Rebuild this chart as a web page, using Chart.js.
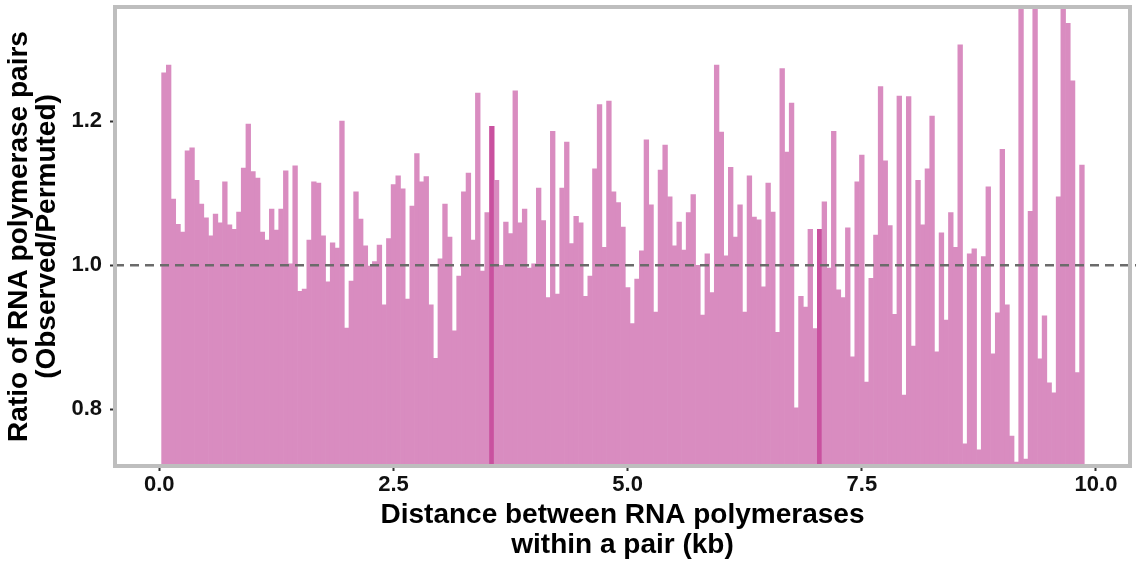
<!DOCTYPE html>
<html lang="en">
<head>
<meta charset="UTF-8">
<title>ratio chart</title>
<style>
    body { margin: 0; background: #fff; }
    #wrap { width: 1136px; height: 561px; }
</style>
</head>
<body>
<div id="wrap"><canvas id="ratioChart"></canvas></div>

<script src="https://cdn.jsdelivr.net/npm/chart.js"></script>
<script>
// histogram bins: 0.05 kb wide, first bin centred on 0.05 kb
var binStart = 0.05;
var binWidth = 0.05;

// observed / permuted ratio for each bin
var ratios = [
    1.267, 1.278, 1.092, 1.057, 1.046, 1.159, 1.163, 1.118, 1.085, 1.066,
    1.041, 1.071, 1.059, 1.116, 1.056, 1.050, 1.074, 1.135, 1.196, 1.130,
    1.121, 1.046, 1.035, 1.078, 1.049, 1.078, 1.131, 1.002, 1.138, 0.964,
    0.967, 1.035, 1.116, 1.114, 1.041, 0.977, 1.031, 1.024, 1.200, 0.913,
    0.978, 1.102, 1.064, 1.027, 0.999, 1.005, 1.028, 0.945, 1.037, 1.112,
    1.124, 1.106, 0.953, 1.082, 1.155, 1.116, 1.123, 0.945, 0.871, 1.009,
    1.085, 1.039, 0.909, 0.985, 1.102, 1.128, 1.035, 1.239, 0.992, 1.073,
    1.193, 1.118, 1.000, 1.060, 1.044, 1.242, 1.059, 1.078, 0.996, 1.002,
    1.107, 1.062, 0.955, 1.186, 0.960, 1.107, 1.171, 1.030, 1.068, 1.059,
    0.957, 0.985, 1.134, 1.223, 1.025, 1.228, 1.102, 1.087, 1.053, 0.969,
    0.919, 0.981, 1.020, 1.174, 1.084, 0.935, 1.132, 1.167, 1.095, 1.027,
    1.060, 1.021, 1.073, 1.098, 1.000, 0.931, 1.016, 0.962, 1.278, 1.185,
    1.013, 1.136, 1.039, 1.084, 0.935, 1.124, 1.067, 1.063, 0.970, 1.114,
    1.074, 0.907, 1.273, 1.157, 1.225, 0.802, 0.957, 0.942, 1.050, 0.912,
    1.050, 1.088, 0.996, 1.186, 0.966, 0.955, 1.052, 0.873, 1.116, 1.153,
    0.838, 0.982, 1.042, 1.248, 1.145, 1.055, 0.932, 1.235, 0.820, 1.234,
    0.888, 1.118, 1.056, 1.134, 1.207, 0.880, 1.045, 0.924, 1.073, 1.025,
    1.306, 0.752, 1.016, 1.023, 0.744, 1.012, 1.109, 0.877, 0.934, 1.161,
    0.945, 0.763, 0.727, 1.390, 0.731, 1.075, 1.420, 0.870, 0.930, 0.837,
    0.823, 1.095, 1.380, 1.336, 1.256, 0.851, 1.139
];

// bins that come out darker in the figure
var darkBins = [70, 140];

var xTicks = [0, 2.5, 5, 7.5, 10];
var yTicks = [0.8, 1.0, 1.2];

var distances = ratios.map(function(r, i) {
    return +(binStart + i * binWidth).toFixed(2);
});

var barData = distances.map(function(d, i) {
    return { x: d, y: ratios[i] };
});

var barColors = ratios.map(function(r, i) {
    return darkBins.indexOf(i) >= 0 ? '#c9519f' : '#d98cc0';
});

// grey panel border + dashed reference line at 1.0
var panelPlugin = {
    id: 'panel',
    afterDatasetsDraw: function(chart) {
        var ctx = chart.ctx;
        var area = chart.chartArea;
        var y1 = chart.scales.y.getPixelForValue(1.0);
        ctx.save();
        ctx.strokeStyle = '#6b6b6b';
        ctx.lineWidth = 2.5;
        ctx.setLineDash([9, 6]);
        ctx.beginPath();
        ctx.moveTo(area.left, y1);
        ctx.lineTo(chart.width, y1);
        ctx.stroke();
        ctx.setLineDash([]);
        ctx.strokeStyle = '#bebebe';
        ctx.lineWidth = 4;
        ctx.strokeRect(area.left, area.top, area.right - area.left, area.bottom - area.top);
        ctx.restore();
    }
};

var tickFont = { family: "'Liberation Sans', Arial, sans-serif", size: 22, weight: 'bold' };
var titleFont = { family: "'Liberation Sans', Arial, sans-serif", size: 28, weight: 'bold' };

var ctx = document.getElementById('ratioChart');
var ratioChart = new Chart(ctx.getContext('2d'), {
    type: 'bar',
    data: {
        datasets: [{
            label: 'Observed/Permuted',
            data: barData,
            backgroundColor: barColors,
            borderWidth: 0,
            barPercentage: 1.0,
            categoryPercentage: 1.0
        }]
    },
    options: {
        responsive: true,
        maintainAspectRatio: false,
        animation: false,
        layout: {
            padding: { top: 7, right: 6, left: 0, bottom: 0 }
        },
        scales: {
            x: {
                type: 'linear',
                offset: false,
                min: -0.4729,
                max: 10.363,
                afterBuildTicks: function(scale) {
                    scale.ticks = xTicks.map(function(v) { return { value: v }; });
                },
                afterFit: function(scale) {
                    scale.height = 95;
                    scale.paddingLeft = 0;
                    scale.paddingRight = 0;
                },
                ticks: {
                    color: '#111',
                    font: tickFont,
                    padding: 1,
                    maxRotation: 0,
                    callback: function(value) {
                        return value.toFixed(1);
                    }
                },
                grid: {
                    display: true,
                    offset: false,
                    drawOnChartArea: false,
                    drawTicks: true,
                    tickLength: 5,
                    tickWidth: 2,
                    tickColor: '#333'
                },
                border: { display: false },
                title: {
                    display: true,
                    text: ['Distance between RNA polymerases', 'within a pair (kb)'],
                    color: '#000',
                    font: Object.assign({ lineHeight: 1.07 }, titleFont),
                    padding: { top: 0, bottom: 1 }
                }
            },
            y: {
                min: 0.7214,
                max: 1.3585,
                afterBuildTicks: function(scale) {
                    scale.ticks = yTicks.map(function(v) { return { value: v }; });
                },
                afterFit: function(scale) {
                    scale.width = 115;
                    scale.paddingTop = 0;
                    scale.paddingBottom = 0;
                },
                ticks: {
                    color: '#111',
                    font: tickFont,
                    padding: 8,
                    callback: function(value) {
                        return value.toFixed(1);
                    }
                },
                grid: {
                    display: true,
                    offset: false,
                    drawOnChartArea: false,
                    drawTicks: true,
                    tickLength: 5,
                    tickWidth: 2,
                    tickColor: '#333'
                },
                border: { display: false },
                title: {
                    display: true,
                    text: ['Ratio of RNA polymerase pairs', '(Observed/Permuted)'],
                    color: '#000',
                    font: Object.assign({ lineHeight: 1.0 }, titleFont),
                    padding: { top: 5, bottom: 0 }
                }
            }
        },
        plugins: {
            legend: { display: false },
            title: { display: false },
            tooltip: { enabled: false }
        }
    },
    plugins: [panelPlugin]
});
</script>
</body>
</html>
